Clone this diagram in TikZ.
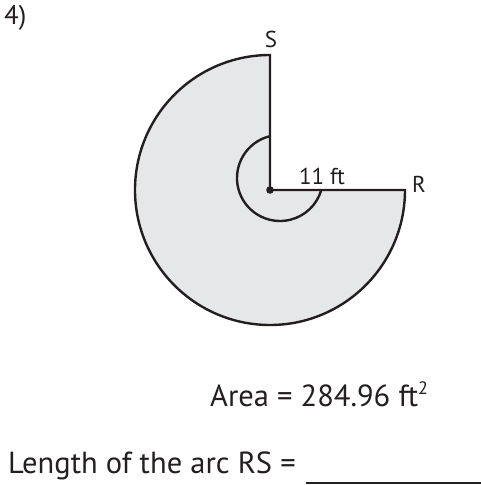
\documentclass[tikz,border=0pt]{standalone}
\usepackage{fontspec}
\setmainfont{PT Sans}
\usetikzlibrary{calc}
\definecolor{shade}{RGB}{230, 231, 232}
\definecolor{ink}{RGB}{35, 31, 32}

\begin{document}
\begin{tikzpicture}[x=1pt, y=1pt, line width=2.4pt, draw=ink]
  \useasboundingbox (0,0) rectangle (481,485);
  \tikzset{lbl/.style={text=ink, font=\fontsize{23}{26}\selectfont, inner sep=0pt},
           txt/.style={text=ink, font=\fontsize{30.5}{34}\selectfont, inner sep=0pt, anchor=base west}}
  \coordinate (O) at (270,295);
  \coordinate (R) at (405,295);
  \coordinate (S) at (270,430);

  % Sector
  \draw[fill=shade] (O) -- (R) arc[start angle=0, end angle=-270, radius=135] -- cycle;

  % Angle mark
  \draw ($(280,307)+(104:43)$) arc[start angle=104, end angle=343.3, radius=43];
  \fill[ink] (O) circle (3.8);

  % Labels
  \node[lbl, anchor=base] (lS) at (271,437) {S};
  \node[lbl, anchor=base west] (lR) at (411,292) {R};
  \node[lbl, anchor=base] (lr) at (322,300) {11 ft};
  \node[lbl, font=\fontsize{27}{30}\selectfont, anchor=north west] (num) at (3,481) {4)};

  % Question
  \node[txt] (area) at (209,78) {Area = 284.96 ft\raisebox{0.85ex}{\fontsize{18}{20}\selectfont 2}};
  \node[txt] (arc) at (7,12) {Length of the arc RS =};
  \draw (306,2) -- (481,2);
\end{tikzpicture}
\end{document}
